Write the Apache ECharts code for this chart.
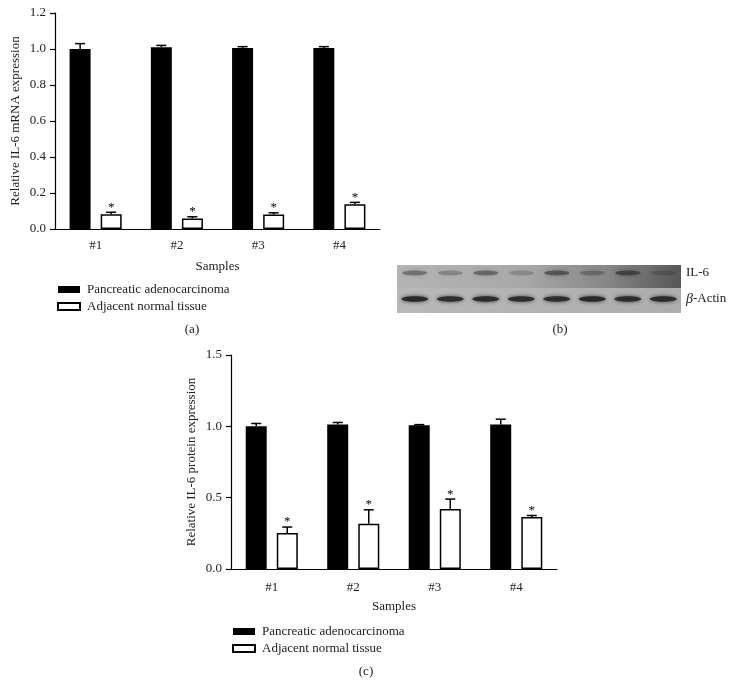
<!DOCTYPE html>
<html>
<head>
<meta charset="utf-8">
<script src="https://cdn.jsdelivr.net/npm/echarts@6/dist/echarts.min.js"></script>
<style>
html, body { margin: 0; padding: 0; background: #fff; }
#container { width: 736px; height: 699px; }
</style>
</head>
<body>
<div id="container"></div>
<script>
// data
var categories = ['#1', '#2', '#3', '#4'];
var seriesNames = ['Pancreatic adenocarcinoma', 'Adjacent normal tissue'];

// (a) relative IL-6 mRNA expression
var mrnaTumor = [1.0, 1.01, 1.005, 1.005];
var mrnaTumorErr = [0.03, 0.01, 0.008, 0.008];
var mrnaNormal = [0.082, 0.059, 0.08, 0.137];
var mrnaNormalErr = [0.011, 0.009, 0.01, 0.011];
var mrnaTicks = [0, 0.2, 0.4, 0.6, 0.8, 1.0, 1.2];

// (c) relative IL-6 protein expression
var protTumor = [1.0, 1.013, 1.008, 1.013];
var protTumorErr = [0.02, 0.014, 0.004, 0.037];
var protNormal = [0.252, 0.317, 0.42, 0.364];
var protNormalErr = [0.042, 0.098, 0.07, 0.011];
var protTicks = [0, 0.5, 1.0, 1.5];

// (b) western blot band strength per lane (0..1)
var il6Bands = [0.45, 0.3, 0.5, 0.25, 0.6, 0.35, 0.7, 0.3];
var actinBands = [0.9, 0.85, 0.88, 0.85, 0.85, 0.9, 0.88, 0.88];

var FONT = 'Liberation Serif';

function errorRender(offset, star) {
    return function (params, api) {
        var i = api.value(0);
        var v = api.value(1);
        var e = api.value(2);
        var base = api.coord([i, v]);
        var top = api.coord([i, v + e]);
        var x = base[0] + offset;
        var children = [
            { type: 'line', shape: { x1: x, y1: base[1], x2: x, y2: top[1] }, style: { stroke: '#000', lineWidth: 1.5 } },
            { type: 'line', shape: { x1: x - 5, y1: top[1], x2: x + 5, y2: top[1] }, style: { stroke: '#000', lineWidth: 1.5 } }
        ];
        if (star) {
            children.push({ type: 'text', style: { text: '*', x: x, y: top[1] - 5, align: 'center', verticalAlign: 'middle', font: '13px "' + FONT + '"', fill: '#000' } });
        }
        return { type: 'group', children: children };
    };
}

function pack(vals, errs) {
    return vals.map(function (v, i) { return [i, v, errs[i]]; });
}

function xAxisFor(grid) {
    return {
        type: 'category',
        gridIndex: grid,
        data: categories,
        name: 'Samples',
        nameLocation: 'middle',
        nameGap: 31,
        nameTextStyle: { fontFamily: FONT, fontSize: 13, color: '#222' },
        axisLine: { lineStyle: { color: '#000', width: 1.2 } },
        axisTick: { alignWithLabel: true, length: 6, lineStyle: { color: '#000', width: 1.2 } },
        axisLabel: { margin: grid === 0 ? 10 : 12, fontFamily: FONT, fontSize: 13, color: '#222' }
    };
}

function yAxisFor(grid, ticks, name) {
    return {
        type: 'value',
        gridIndex: grid,
        min: ticks[0],
        max: ticks[ticks.length - 1],
        interval: ticks[1] - ticks[0],
        name: name,
        nameLocation: 'middle',
        nameGap: 33,
        nameTextStyle: { fontFamily: FONT, fontSize: 13, color: '#222' },
        splitLine: { show: false },
        axisLine: { show: true, lineStyle: { color: '#000', width: 1.2 } },
        axisTick: { show: true, length: 5, lineStyle: { color: '#000', width: 1.2 } },
        axisLabel: {
            margin: 9, fontFamily: FONT, fontSize: 13, color: '#222',
            formatter: function (v) { return v.toFixed(1); }
        }
    };
}

function barSeries(name, grid, vals, white) {
    return {
        name: name,
        type: 'bar',
        xAxisIndex: grid,
        yAxisIndex: grid,
        barWidth: 21,
        barGap: '48%',
        data: vals,
        itemStyle: white ? { color: '#fff', borderColor: '#000', borderWidth: 1.5 } : { color: '#000', borderColor: '#000', borderWidth: 0 },
        emphasis: { disabled: true }
    };
}

function errSeries(grid, vals, errs, offset, star) {
    return {
        type: 'custom',
        xAxisIndex: grid,
        yAxisIndex: grid,
        z: 5,
        renderItem: errorRender(offset, star),
        data: pack(vals, errs)
    };
}

// blot drawing (panel b)
function blotGraphic() {
    var x0 = 397, y0 = 265, w = 284;
    var els = [
        { type: 'rect', shape: { x: x0, y: y0, width: w, height: 23 }, style: { fill: new echarts.graphic.LinearGradient(0, 0, 1, 0, [
            { offset: 0, color: '#b4b4b4' }, { offset: 0.45, color: '#a8a8a8' }, { offset: 0.75, color: '#858585' }, { offset: 1, color: '#575757' }]) } },
        { type: 'rect', shape: { x: x0, y: y0 + 23, width: w, height: 25 }, style: { fill: new echarts.graphic.LinearGradient(0, 0, 1, 0, [
            { offset: 0, color: '#b8b8b8' }, { offset: 1, color: '#adadad' }]) } }
    ];
    var lane = w / il6Bands.length;
    il6Bands.forEach(function (s, i) {
        els.push({ type: 'ellipse', shape: { cx: x0 + lane * (i + 0.5), cy: 273, rx: 12.5, ry: 2.4 },
            style: { fill: 'rgba(50,50,50,' + s + ')', shadowBlur: 5, shadowColor: 'rgba(50,50,50,' + s + ')' } });
    });
    actinBands.forEach(function (s, i) {
        els.push({ type: 'ellipse', shape: { cx: x0 + lane * (i + 0.5), cy: 299, rx: 13.5, ry: 2.8 },
            style: { fill: 'rgba(35,35,35,' + s + ')', shadowBlur: 4, shadowColor: 'rgba(35,35,35,' + s + ')' } });
    });
    els.push({ type: 'text', x: 686, y: 273, style: { text: 'IL-6', fontFamily: FONT, fontSize: 13, fill: '#222', verticalAlign: 'middle' } });
    els.push({ type: 'text', x: 686, y: 299, style: { text: '{i|β}-Actin', fontFamily: FONT, fontSize: 13, fill: '#222', verticalAlign: 'middle',
        rich: { i: { fontStyle: 'italic', fontFamily: FONT, fontSize: 14, fill: '#222' } } } });
    return els;
}

function panelLabel(t, x, y) {
    return { type: 'text', x: x, y: y, style: { text: t, fontFamily: FONT, fontSize: 13, fill: '#222', align: 'center', verticalAlign: 'middle' } };
}

function legendFor(left, top) {
    return {
        left: left, top: top,
        padding: 0,
        orient: 'vertical',
        icon: 'rect',
        itemWidth: 22, itemHeight: 7, itemGap: 4,
        selectedMode: false,
        data: seriesNames,
        textStyle: { fontFamily: FONT, fontSize: 13, color: '#222', padding: [0, 0, 0, 2] }
    };
}

var option = {
    animation: false,
    backgroundColor: '#fff',
    grid: [
        { left: 55, top: 13, width: 325, height: 216 },
        { left: 231, top: 355, width: 326, height: 214 }
    ],
    xAxis: [xAxisFor(0), xAxisFor(1)],
    yAxis: [
        yAxisFor(0, mrnaTicks, 'Relative IL-6 mRNA expression'),
        yAxisFor(1, protTicks, 'Relative IL-6 protein expression')
    ],
    legend: [legendFor(57, 283), legendFor(232, 625)],
    series: [
        barSeries(seriesNames[0], 0, mrnaTumor, false),
        barSeries(seriesNames[1], 0, mrnaNormal, true),
        errSeries(0, mrnaTumor, mrnaTumorErr, -15.5, false),
        errSeries(0, mrnaNormal, mrnaNormalErr, 15.5, true),
        barSeries(seriesNames[0], 1, protTumor, false),
        barSeries(seriesNames[1], 1, protNormal, true),
        errSeries(1, protTumor, protTumorErr, -15.5, false),
        errSeries(1, protNormal, protNormalErr, 15.5, true)
    ],
    graphic: blotGraphic().concat([
        panelLabel('(a)', 192, 330),
        panelLabel('(b)', 560, 330),
        panelLabel('(c)', 366, 672)
    ])
};

var myChart = echarts.init(document.getElementById('container'));
myChart.setOption(option);
</script>
</body>
</html>
